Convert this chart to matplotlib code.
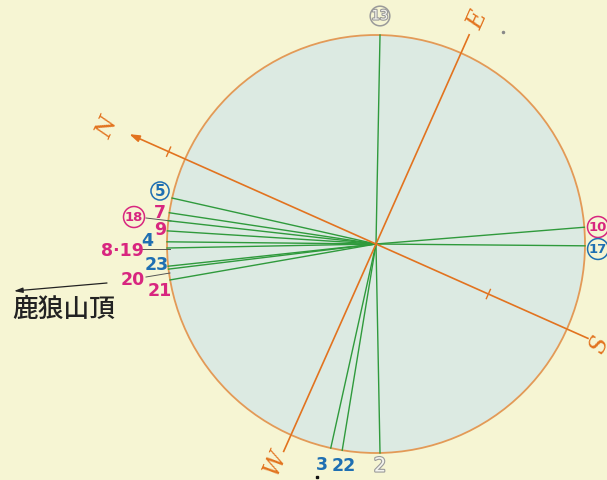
import numpy as np
import matplotlib
matplotlib.use("Agg")
import matplotlib.pyplot as plt
import matplotlib.patheffects as pe
from matplotlib.patches import Circle

# directions (deg, counter-clockwise from the right) of the green lines
hour_labels = ['13', '10', '17', '5', '7', '18', '9', '4', '8·19',
               '23', '20', '21', '3', '22', '2']
hour_angles = [88.9, 4.6, -0.5, 167.3, 171.4, 173.6, 176.4, 179.4, 181.1,
               186.1, 186.9, 189.9, 257.5, 260.7, 271.1]

# compass axes, rotated by this much
compass_rot = 66.0
compass_letters = ['E', 'N', 'W', 'S']
summit_label = '鹿狼山頂'

BG = '#f6f5d3'
FILL = '#dceae2'
RIM = '#e39a57'
ORANGE = '#e2731f'
GREEN = '#2f9a3c'
BLUE = '#1f6fb2'
MAG = '#d8267f'
GREY = '#9a9a9a'

# center and radius of the dial in pixels (layout)
CX, CY, R = 376.0, 245.0, 209.0


def px(x, y):
    return (x - CX) / R, (CY - y) / R


fig = plt.figure(figsize=(6.07, 4.81), dpi=100, facecolor=BG)
ax = fig.add_axes([0, 0, 1, 1])
ax.set_facecolor(BG)
x0, y0 = px(0, 481)
x1, y1 = px(607, 0)
ax.set_xlim(x0, x1)
ax.set_ylim(y0, y1)
ax.set_aspect('equal')
ax.axis('off')

ax.add_patch(Circle((0, 0), 1.0, facecolor=FILL, edgecolor=RIM, lw=1.3, zorder=1))

# green lines
for a in hour_angles:
    t = np.radians(a)
    ax.plot([0, np.cos(t)], [0, np.sin(t)], color=GREEN, lw=1.0, zorder=3)

# orange compass axes
def axis_pt(angle, r):
    t = np.radians(angle)
    return r * np.cos(t), r * np.sin(t)

e_ang = compass_rot
n_ang = compass_rot + 90
ex, ey = axis_pt(e_ang, 229 / R)
wx, wy = axis_pt(e_ang + 180, 227 / R)
ax.plot([wx, ex], [wy, ey], color=ORANGE, lw=1.2, zorder=4)
sx, sy = axis_pt(n_ang + 180, 232 / R)
ax.plot([0, sx], [0, sy], color=ORANGE, lw=1.2, zorder=4)
nx, ny = axis_pt(n_ang, 270 / R)
ax.annotate('', xy=(nx, ny), xytext=(0, 0),
            arrowprops=dict(arrowstyle='-|>,head_length=0.6,head_width=0.2',
                            color=ORANGE, lw=1.2, shrinkA=0, shrinkB=0), zorder=4)

# small ticks across the N-S axis
for ang, r in [(n_ang, 227 / R), (n_ang + 180, 123 / R)]:
    cx_, cy_ = axis_pt(ang, r)
    dx, dy = axis_pt(ang + 90, 5 / R)
    ax.plot([cx_ - dx, cx_ + dx], [cy_ - dy, cy_ + dy], color=ORANGE, lw=1.0, zorder=4)

letter_pos = [(478, 20), (108, 128), (275, 463), (600, 345)]
for ch, (lx, ly) in zip(compass_letters, letter_pos):
    ax.text(*px(lx, ly), ch, color=ORANGE, fontsize=17, family='DejaVu Serif',
            style='italic', rotation=compass_rot, ha='center', va='center', zorder=5)

# hour labels: (text, pixel position, colour, circled?)
label_layout = {
    '5': ((160, 192), BLUE, True),
    '7': ((160, 213), MAG, False),
    '18': ((134, 218), MAG, True),
    '9': ((160, 230), MAG, False),
    '4': ((147, 241), BLUE, False),
    '8·19': ((122, 251), MAG, False),
    '23': ((157, 265), BLUE, False),
    '20': ((133, 280), MAG, False),
    '21': ((160, 291), MAG, False),
    '10': ((598, 228), MAG, True),
    '17': ((598, 250), BLUE, True),
    '13': ((380, 17), GREY, True),
    '3': ((322, 465), BLUE, False),
    '22': ((344, 466), BLUE, False),
    '2': ((380, 467), GREY, False),
}
for lab in hour_labels:
    (lx, ly), col, circ = label_layout[lab]
    kw = dict(ha='center', va='center', fontsize=12.5, family='DejaVu Sans',
              fontweight='bold', color=col, zorder=6)
    if circ:
        kw['fontsize'] = 11 if len(lab) == 1 else 9.5
        kw['bbox'] = dict(boxstyle='circle,pad=0.1', facecolor='none',
                          edgecolor=col, lw=1.1)
    if col == GREY:
        kw['color'] = '#f4f4ee'
        kw['fontweight'] = 'normal'
        kw['path_effects'] = [pe.withStroke(linewidth=1.6, foreground=GREY)]
        if not circ:
            kw['fontsize'] = 14
    ax.text(*px(lx, ly), lab, **kw)

# leader lines for crowded labels
for (a, b), (c, d) in [((146, 219), (171, 222)), ((141, 250), (170, 250)),
                       ((146, 278), (170, 274))]:
    p, q = px(a, b), px(c, d)
    ax.plot([p[0], q[0]], [p[1], q[1]], color='#555555', lw=0.7, zorder=2)

# summit direction arrow
ax.annotate('', xy=px(14, 292), xytext=px(107, 284),
            arrowprops=dict(arrowstyle='-|>,head_length=0.5,head_width=0.15',
                            color='#222222', lw=0.9, shrinkA=0, shrinkB=0))
ax.text(*px(64, 309), summit_label, family=['Noto Sans CJK JP', 'DejaVu Sans'],
        fontsize=18.5, fontweight='medium', ha='center', va='center', color='#222222')

# stray dots
ax.plot(*px(317, 478), marker='s', ms=2, color='#111111')
ax.plot(*px(503, 33), marker='o', ms=1.5, color='#888888')

fig.savefig('out.png', dpi=100, facecolor=BG)
